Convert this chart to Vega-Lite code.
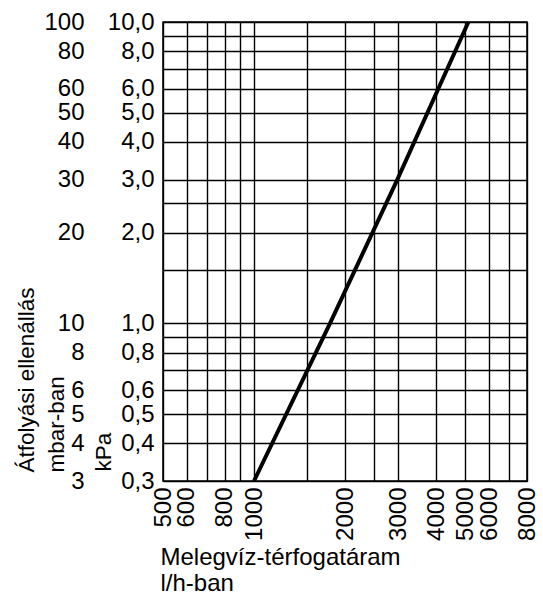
{
  "$schema": "https://vega.github.io/schema/vega-lite/v6.json",
  "width": 364,
  "height": 459,
  "autosize": {"type": "none"},
  "padding": {"left": 163, "top": 22, "right": 16, "bottom": 118},
  "background": "white",
  "config": {
    "font": "Liberation Sans",
    "view": {"stroke": "#000", "strokeWidth": 1.5},
    "axis": {
      "labelFont": "Liberation Sans",
      "titleFont": "Liberation Sans",
      "labelFontSize": 24,
      "titleFontSize": 24,
      "titleFontWeight": "normal",
      "labelColor": "#000",
      "titleColor": "#000",
      "labelOverlap": false,
      "labelFlush": false,
      "labelBound": false,
      "ticks": false,
      "domain": false
    }
  },
  "data": {
    "values": [
      {"flow": 1000, "mbar": 3},
      {"flow": 1784, "mbar": 10},
      {"flow": 2979, "mbar": 30},
      {"flow": 5120, "mbar": 100}
    ]
  },
  "layer": [
    {
      "mark": {"type": "line", "opacity": 0},
      "encoding": {
        "x": {
          "field": "flow",
          "type": "quantitative",
          "scale": {"type": "log", "domain": [500, 8000], "nice": false},
          "axis": {
            "values": [500, 600, 700, 800, 900, 1000, 1500, 2000, 2500, 3000, 4000, 5000, 6000, 7000, 8000],
            "labelExpr": "indexof([700, 900, 1500, 2500, 7000], datum.value) >= 0 ? '' : format(datum.value, 'd')",
            "grid": true,
            "gridColor": "#000",
            "gridOpacity": 1,
            "gridWidth": 1.4,
            "labelAngle": 270,
            "labelAlign": "right",
            "labelBaseline": "middle",
            "labelPadding": 6,
            "title": ["Melegvíz-térfogatáram", "l/h-ban"],
            "titleAnchor": "start",
            "titleAlign": "left",
            "titleBaseline": "alphabetic",
            "titleAngle": 0,
            "titleX": -3,
            "titleY": 83,
            "titleLineHeight": 26
          }
        },
        "y": {
          "field": "mbar",
          "type": "quantitative",
          "scale": {"type": "log", "domain": [3, 100], "nice": false},
          "axis": {
            "orient": "left",
            "values": [3, 4, 5, 6, 7, 8, 9, 10, 15, 20, 25, 30, 40, 50, 60, 70, 80, 90, 100],
            "labelExpr": "indexof([7, 9, 15, 25, 70, 90], datum.value) >= 0 ? '' : format(datum.value, 'd')",
            "grid": true,
            "gridColor": "#000",
            "gridOpacity": 1,
            "gridWidth": 1.4,
            "labelAlign": "right",
            "labelBaseline": "middle",
            "labelPadding": 79,
            "title": ["Átfolyási ellenállás", "mbar-ban"],
            "titleFontSize": 22.5,
            "titleAngle": 270,
            "titleAlign": "left",
            "titleBaseline": "alphabetic",
            "titleX": -130,
            "titleY": 450,
            "titleLineHeight": 30
          }
        }
      }
    },
    {
      "mark": {"type": "line", "color": "#000", "strokeWidth": 4},
      "encoding": {
        "x": {"field": "flow", "type": "quantitative"},
        "y": {
          "field": "mbar",
          "type": "quantitative",
          "scale": {"type": "log", "domain": [3, 100], "nice": false},
          "axis": {
            "orient": "left",
            "values": [3, 4, 5, 6, 8, 10, 20, 30, 40, 50, 60, 80, 100],
            "labelExpr": "replace(format(datum.value / 10, '.1f'), '.', ',')",
            "grid": false,
            "labelAlign": "right",
            "labelBaseline": "middle",
            "labelPadding": 9,
            "title": "kPa",
            "titleFontSize": 22.5,
            "titleAngle": 270,
            "titleAlign": "left",
            "titleBaseline": "alphabetic",
            "titleX": -53,
            "titleY": 449
          }
        }
      }
    }
  ],
  "resolve": {"scale": {"y": "independent"}, "axis": {"y": "independent"}}
}
